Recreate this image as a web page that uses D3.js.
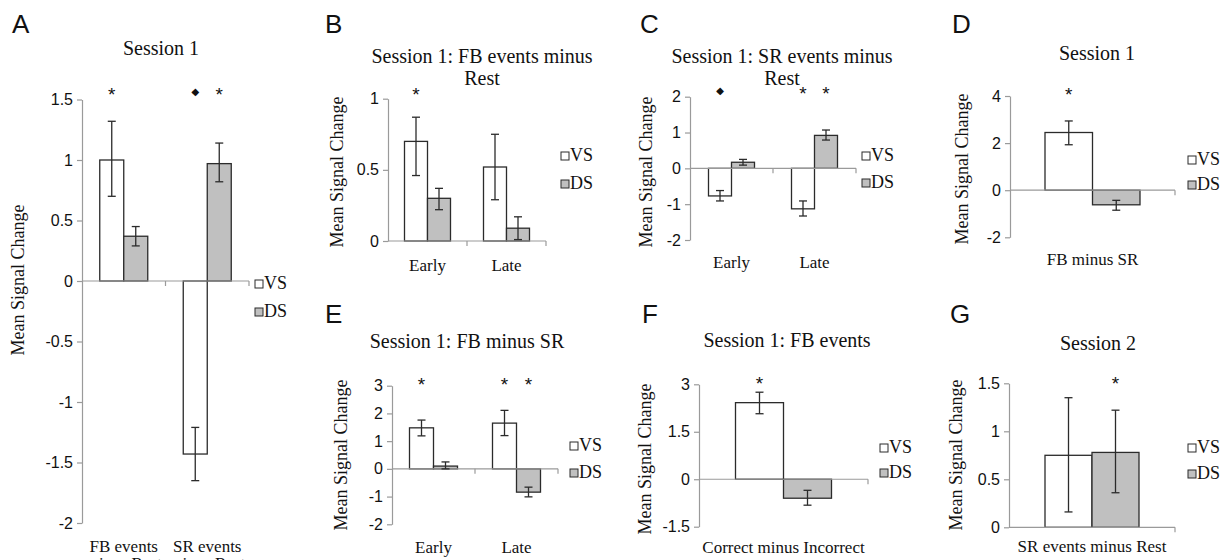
<!DOCTYPE html>
<html>
<head>
<meta charset="utf-8">
<script src="https://cdn.jsdelivr.net/npm/d3@7"></script>
<style>
  body { margin: 0; background: #fff; }
</style>
</head>
<body>
<div id="chart"></div>
<script>
// values (mean signal change, error bar ends)
var series = ["VS", "DS"];

// A  Session 1
var aCats = ["FB events\nminus Rest", "SR events\nminus Rest"];
var aVS = [1.00, -1.43];
var aDS = [0.37, 0.97];
var aVSErr = [[0.70, 1.32], [-1.65, -1.21]];
var aDSErr = [[0.29, 0.45], [0.82, 1.14]];
var aTicks = [-2, -1.5, -1, -0.5, 0, 0.5, 1, 1.5];
var aMarks = [["FB events\nminus Rest", "VS", "*"], ["SR events\nminus Rest", "VS", "◆"], ["SR events\nminus Rest", "DS", "*"]];

// B  Session 1: FB events minus Rest
var bCats = ["Early", "Late"];
var bVS = [0.70, 0.52];
var bDS = [0.30, 0.09];
var bVSErr = [[0.46, 0.87], [0.29, 0.75]];
var bDSErr = [[0.22, 0.37], [0.01, 0.17]];
var bTicks = [0, 0.5, 1];
var bMarks = [["Early", "VS", "*"]];

// C  Session 1: SR events minus Rest
var cCats = ["Early", "Late"];
var cVS = [-0.77, -1.13];
var cDS = [0.17, 0.92];
var cVSErr = [[-0.91, -0.62], [-1.33, -0.91]];
var cDSErr = [[0.09, 0.25], [0.79, 1.07]];
var cTicks = [-2, -1, 0, 1, 2];
var cMarks = [["Early", "VS", "◆"], ["Late", "VS", "*"], ["Late", "DS", "*"]];

// D  Session 1, FB minus SR
var dCats = ["FB minus SR"];
var dVS = [2.45];
var dDS = [-0.62];
var dVSErr = [[1.93, 2.94]];
var dDSErr = [[-0.85, -0.43]];
var dTicks = [-2, 0, 2, 4];
var dMarks = [["FB minus SR", "VS", "*"]];

// E  Session 1: FB minus SR
var eCats = ["Early", "Late"];
var eVS = [1.48, 1.65];
var eDS = [0.10, -0.84];
var eVSErr = [[1.19, 1.76], [1.20, 2.11]];
var eDSErr = [[0.00, 0.25], [-1.01, -0.66]];
var eTicks = [-2, -1, 0, 1, 2, 3];
var eMarks = [["Early", "VS", "*"], ["Late", "VS", "*"], ["Late", "DS", "*"]];

// F  Session 1: FB events, correct minus incorrect
var fCats = ["Correct minus Incorrect"];
var fVS = [2.42];
var fDS = [-0.60];
var fVSErr = [[2.07, 2.75]];
var fDSErr = [[-0.82, -0.35]];
var fTicks = [-1.5, 0, 1.5, 3];
var fMarks = [["Correct minus Incorrect", "VS", "*"]];

// G  Session 2
var gCats = ["SR events minus Rest"];
var gVS = [0.75];
var gDS = [0.78];
var gVSErr = [[0.16, 1.35]];
var gDSErr = [[0.36, 1.22]];
var gTicks = [0, 0.5, 1, 1.5];
var gMarks = [["SR events minus Rest", "DS", "*"]];

var svg = d3.select("#chart")
  .append("svg")
  .attr("width", 1223)
  .attr("height", 560);

var serif = "'Liberation Serif', 'Times New Roman', serif";
var sans = "'Liberation Sans', Arial, sans-serif";
var axisGray = "#9a9a9a";
var ink = "#2b2b2b";
var fills = { VS: "#ffffff", DS: "#c0c0c0" };

function drawPanel(p) {
  var g = svg.append("g");

  var x = d3.scaleBand().domain(p.cats).range([p.x0, p.x1]);
  var y = d3.scaleLinear().domain(p.domain).range(p.yRange);
  var xs = d3.scaleBand().domain(series).range([-p.barW, p.barW]);

  var rows = [];
  p.cats.forEach(function(c, i) {
    rows.push({ cat: c, s: "VS", v: p.vs[i], err: p.vsErr[i] });
    rows.push({ cat: c, s: "DS", v: p.ds[i], err: p.dsErr[i] });
  });
  var cx = function(d) { return x(d.cat) + x.bandwidth() / 2 + xs(d.s) + xs.bandwidth() / 2; };

  // y axis
  var yAxis = g.append("g")
    .attr("transform", `translate(${p.x0},0)`)
    .call(d3.axisLeft(y).tickValues(p.ticks).tickSize(5).tickSizeOuter(0).tickPadding(4)
      .tickFormat(function(d) { return String(d); }));
  yAxis.select(".domain").attr("stroke", axisGray).attr("stroke-width", 1.2);
  yAxis.selectAll(".tick line").attr("stroke", axisGray).attr("stroke-width", 1.2);
  yAxis.selectAll(".tick text")
    .attr("fill", "#111")
    .style("font-family", sans)
    .style("font-size", "16px");

  // bars
  g.selectAll("rect.bar")
    .data(rows)
    .enter()
    .append("rect")
    .attr("class", "bar")
    .attr("x", function(d) { return x(d.cat) + x.bandwidth() / 2 + xs(d.s); })
    .attr("width", xs.bandwidth())
    .attr("y", function(d) { return y(Math.max(0, d.v)); })
    .attr("height", function(d) { return Math.abs(y(d.v) - y(0)); })
    .attr("fill", function(d) { return fills[d.s]; })
    .attr("stroke", ink)
    .attr("stroke-width", 1.3);

  // zero line with category ticks
  g.append("line")
    .attr("x1", p.x0).attr("x2", p.x1)
    .attr("y1", y(0)).attr("y2", y(0))
    .attr("stroke", axisGray).attr("stroke-width", 1.2);
  p.cats.forEach(function(c) {
    var bx = x(c) + x.bandwidth();
    g.append("line")
      .attr("x1", bx).attr("x2", bx)
      .attr("y1", y(0)).attr("y2", y(0) + 5)
      .attr("stroke", axisGray).attr("stroke-width", 1.2);
  });

  // error bars
  var eb = g.selectAll("g.err")
    .data(rows)
    .enter()
    .append("g")
    .attr("class", "err");
  eb.append("line")
    .attr("x1", cx).attr("x2", cx)
    .attr("y1", function(d) { return y(d.err[0]); })
    .attr("y2", function(d) { return y(d.err[1]); });
  eb.append("line")
    .attr("x1", function(d) { return cx(d) - 4; })
    .attr("x2", function(d) { return cx(d) + 4; })
    .attr("y1", function(d) { return y(d.err[0]); })
    .attr("y2", function(d) { return y(d.err[0]); });
  eb.append("line")
    .attr("x1", function(d) { return cx(d) - 4; })
    .attr("x2", function(d) { return cx(d) + 4; })
    .attr("y1", function(d) { return y(d.err[1]); })
    .attr("y2", function(d) { return y(d.err[1]); });
  eb.selectAll("line").attr("stroke", ink).attr("stroke-width", 1.3);

  // significance marks
  p.marks.forEach(function(m) {
    var d = { cat: m[0], s: m[1] };
    var star = m[2] === "*";
    g.append("text")
      .attr("x", cx(d))
      .attr("y", star ? p.markY + 10 : p.markY + 4)
      .attr("text-anchor", "middle")
      .style("font-family", star ? sans : "'DejaVu Sans', sans-serif")
      .style("font-size", star ? "19px" : "10px")
      .attr("fill", "#111")
      .text(m[2]);
  });

  // category labels
  p.cats.forEach(function(c) {
    c.split("\n").forEach(function(line, k) {
      g.append("text")
        .attr("x", x(c) + x.bandwidth() / 2)
        .attr("y", p.catY + k * 17)
        .attr("text-anchor", "middle")
        .style("font-family", serif)
        .style("font-size", "17px")
        .attr("fill", "#111")
        .text(line);
    });
  });

  // title
  p.title.forEach(function(line, k) {
    g.append("text")
      .attr("x", p.titleX)
      .attr("y", p.titleY + k * 22)
      .attr("text-anchor", "middle")
      .style("font-family", serif)
      .style("font-size", "20px")
      .attr("fill", "#111")
      .text(line);
  });

  // y label
  g.append("text")
    .attr("transform", `translate(${p.ylabX},${p.ylabY}) rotate(-90)`)
    .attr("text-anchor", "middle")
    .style("font-family", serif)
    .style("font-size", "18px")
    .attr("fill", "#111")
    .text("Mean Signal Change");

  // legend
  series.forEach(function(s, i) {
    g.append("rect")
      .attr("x", p.legX).attr("y", p.legY[i] - 3)
      .attr("width", 8).attr("height", 8)
      .attr("fill", fills[s]).attr("stroke", ink).attr("stroke-width", 1);
    g.append("text")
      .attr("x", p.legX + 9).attr("y", p.legY[i] + 6)
      .style("font-family", serif)
      .style("font-size", "18px")
      .attr("fill", "#111")
      .text(s);
  });

  // panel letter
  g.append("text")
    .attr("x", p.letterX).attr("y", p.letterY)
    .style("font-family", sans)
    .style("font-size", "26px")
    .attr("fill", "#111")
    .text(p.letter);
}

drawPanel({ letter: "A", letterX: 12, letterY: 33, cats: aCats, vs: aVS, ds: aDS, vsErr: aVSErr, dsErr: aDSErr,
  ticks: aTicks, marks: aMarks, domain: [-2, 1.5], yRange: [523, 99.5], x0: 82, x1: 249, barW: 24,
  title: ["Session 1"], titleX: 161, titleY: 55, catY: 552, ylabX: 24, ylabY: 280,
  legX: 255, legY: [283, 311], markY: 91 });

drawPanel({ letter: "B", letterX: 325, letterY: 33, cats: bCats, vs: bVS, ds: bDS, vsErr: bVSErr, dsErr: bDSErr,
  ticks: bTicks, marks: bMarks, domain: [0, 1], yRange: [241, 98.7], x0: 388, x1: 546, barW: 23,
  title: ["Session 1: FB events minus", "Rest"], titleX: 482, titleY: 63, catY: 271, ylabX: 343, ylabY: 172,
  legX: 561, legY: [155, 183], markY: 91 });

drawPanel({ letter: "C", letterX: 640, letterY: 33, cats: cCats, vs: cVS, ds: cDS, vsErr: cVSErr, dsErr: cDSErr,
  ticks: cTicks, marks: cMarks, domain: [-2, 2], yRange: [240, 96.7], x0: 690, x1: 856, barW: 23,
  title: ["Session 1: SR events minus", "Rest"], titleX: 782, titleY: 63, catY: 268, ylabX: 652, ylabY: 172,
  legX: 862, legY: [155, 182], markY: 90 });

drawPanel({ letter: "D", letterX: 952, letterY: 33, cats: dCats, vs: dVS, ds: dDS, vsErr: dVSErr, dsErr: dDSErr,
  ticks: dTicks, marks: dMarks, domain: [-2, 4], yRange: [237.3, 96], x0: 1010, x1: 1175, barW: 47.5,
  title: ["Session 1"], titleX: 1097, titleY: 60, catY: 265, ylabX: 968, ylabY: 169,
  legX: 1188, legY: [159, 184], markY: 91 });

drawPanel({ letter: "E", letterX: 325, letterY: 323, cats: eCats, vs: eVS, ds: eDS, vsErr: eVSErr, dsErr: eDSErr,
  ticks: eTicks, marks: eMarks, domain: [-2, 3], yRange: [524.3, 385.7], x0: 392, x1: 558, barW: 24,
  title: ["Session 1: FB minus SR"], titleX: 467, titleY: 348, catY: 553, ylabX: 347, ylabY: 455,
  legX: 570, legY: [445, 472], markY: 381 });

drawPanel({ letter: "F", letterX: 642, letterY: 323, cats: fCats, vs: fVS, ds: fDS, vsErr: fVSErr, dsErr: fDSErr,
  ticks: fTicks, marks: fMarks, domain: [-1.5, 3], yRange: [526.7, 384.3], x0: 699, x1: 868, barW: 48,
  title: ["Session 1: FB events"], titleX: 787, titleY: 347, catY: 553, ylabX: 651, ylabY: 459,
  legX: 880, legY: [447, 472], markY: 380 });

drawPanel({ letter: "G", letterX: 950, letterY: 323, cats: gCats, vs: gVS, ds: gDS, vsErr: gVSErr, dsErr: gDSErr,
  ticks: gTicks, marks: gMarks, domain: [0, 1.5], yRange: [527.3, 383.3], x0: 1009, x1: 1175, barW: 47,
  title: ["Session 2"], titleX: 1098, titleY: 350, catY: 552, ylabX: 962, ylabY: 455,
  legX: 1188, legY: [447, 473], markY: 380 });
</script>
</body>
</html>
